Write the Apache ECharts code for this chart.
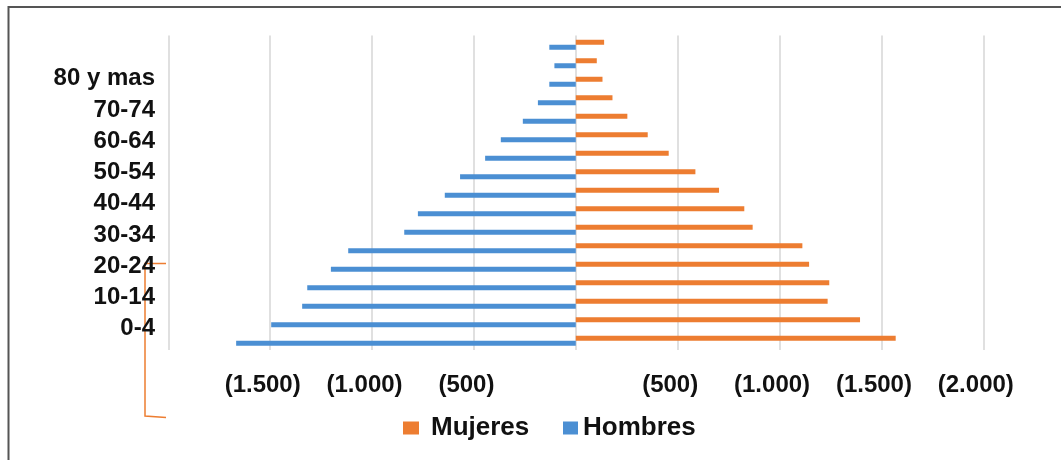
<!DOCTYPE html>
<html>
<head>
<meta charset="utf-8">
<script src="https://cdn.jsdelivr.net/npm/echarts@6/dist/echarts.min.js"></script>
<style>html,body{margin:0;padding:0;background:#fff;}#chart{width:1061px;height:460px;}</style>
</head>
<body>
<div id="chart"></div>
<script>
// Age groups, bottom to top
var ageGroups = ['0-4','5-9','10-14','15-19','20-24','25-29','30-34','35-39','40-44','45-49','50-54','55-59','60-64','65-69','70-74','75-79','80 y mas'];
// Women (positive side)
var mujeres = [1570,1395,1236,1244,1145,1112,868,827,703,587,456,353,253,180,131,103,139];
// Men (drawn on the negative side)
var hombres = [-1667,-1495,-1343,-1318,-1202,-1117,-842,-775,-643,-568,-445,-368,-260,-186,-130,-105,-130];
// Visible y labels (every other group)
var yTickLabels = ['0-4','10-14','20-24','30-34','40-44','50-54','60-64','70-74','80 y mas'];
// x tick labels from -2000 to 2000 step 500
var xTickLabels = ['','(1.500)','(1.000)','(500)','','(500)','(1.000)','(1.500)','(2.000)'];

var FONT = "'Liberation Sans', Arial, sans-serif";
var ORANGE = '#ED7D31', BLUE = '#4B8FD3';

var chart = echarts.init(document.getElementById('chart'));
chart.setOption({
  animation: false,
  backgroundColor: '#fff',
  grid: [
    {left: 168.3, right: 77.7, top: 35.5, bottom: 110},
    {left: 168, width: 10, top: 63, bottom: 115.7}
  ],
  legend: [
    {data: ['Mujeres'], left: 398, top: 408, itemWidth: 16, itemHeight: 13, itemGap: 0, icon: 'rect',
     textStyle: {fontFamily: FONT, fontWeight: 'bold', fontSize: 26, color: '#111', lineHeight: 30, padding: [0,0,0,7]}},
    {data: ['Hombres'], left: 558, top: 408, itemWidth: 15, itemHeight: 13, itemGap: 0, icon: 'rect',
     textStyle: {fontFamily: FONT, fontWeight: 'bold', fontSize: 26, color: '#111', lineHeight: 30, padding: [0,0,0,0]}}
  ],
  xAxis: [
    {type: 'value', gridIndex: 0, min: -2000, max: 2000, interval: 500,
     axisLine: {show: false}, axisTick: {show: false},
     splitLine: {show: true, lineStyle: {color: '#e0e0e0', width: 2}},
     axisLabel: {fontFamily: FONT, fontWeight: 'bold', fontSize: 24, color: '#111', margin: 23, lineHeight: 24,
       padding: [0, 15, 0, 0],
       formatter: function (v) { return xTickLabels[Math.round((v + 2000) / 500)]; }}},
    {type: 'value', gridIndex: 1, show: false}
  ],
  yAxis: [
    {type: 'category', gridIndex: 0, data: ageGroups,
     axisLine: {show: false}, axisTick: {show: false}, axisLabel: {show: false}},
    {type: 'category', gridIndex: 1, data: yTickLabels,
     axisLine: {show: false}, axisTick: {show: false},
     axisLabel: {fontFamily: FONT, fontWeight: 'bold', fontSize: 24, color: '#111', margin: 13}}
  ],
  series: [
    {name: 'Mujeres', type: 'bar', xAxisIndex: 0, yAxisIndex: 0, data: mujeres,
     barWidth: 5, barGap: '0%', itemStyle: {color: ORANGE}},
    {name: 'Hombres', type: 'bar', xAxisIndex: 0, yAxisIndex: 0, data: hombres,
     barWidth: 5, barGap: '0%', itemStyle: {color: BLUE}}
  ],
  graphic: [
    {type: 'line', shape: {x1: 8, y1: 7, x2: 1061, y2: 7}, style: {stroke: '#555', lineWidth: 2}},
    {type: 'line', shape: {x1: 8.5, y1: 6, x2: 8.5, y2: 460}, style: {stroke: '#555', lineWidth: 2}},
    {type: 'polyline', shape: {points: [[166, 263.5], [145, 263.5], [145, 416], [166, 417.5]]},
     style: {stroke: ORANGE, lineWidth: 1.5, fill: null}}
  ]
});
</script>
</body>
</html>
